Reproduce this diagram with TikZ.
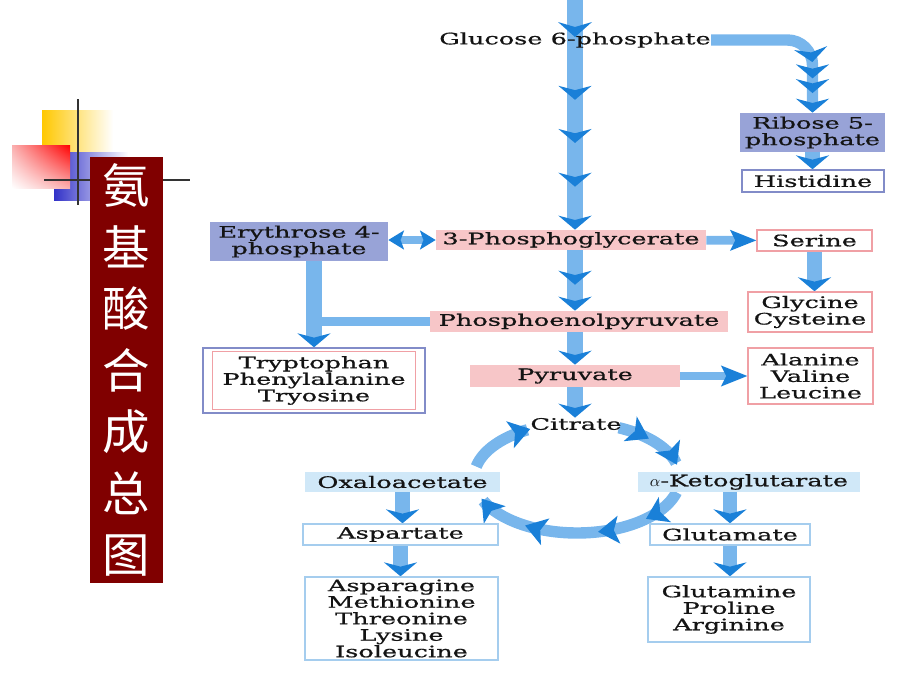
\documentclass[tikz,border=0pt]{standalone}
\usepackage{fontspec}
\setmainfont{DejaVu Serif}[FakeStretch=1.62, FakeBold=0.8]
\newfontfamily\cjk{Noto Sans CJK SC}
\usepackage{tikz}
\usetikzlibrary{arrows.meta}
\usetikzlibrary{decorations.markings}
\usetikzlibrary{backgrounds}
\usetikzlibrary{shadings}
\definecolor{ink}{RGB}{20,20,20}
\definecolor{pinkfill}{RGB}{247,198,200}
\definecolor{pinkline}{RGB}{240,160,165}
\definecolor{slatefill}{RGB}{152,163,215}
\definecolor{slateline}{RGB}{130,140,200}
\definecolor{skyfill}{RGB}{208,232,248}
\definecolor{skyline}{RGB}{165,205,238}
\definecolor{shaftblue}{RGB}{120,182,236}
\definecolor{headblue}{RGB}{26,128,216}
\definecolor{maroon}{RGB}{128,0,0}
\definecolor{sunny}{RGB}{255,200,0}
\definecolor{deepblue}{RGB}{50,50,200}
\definecolor{rosy}{RGB}{250,175,175}
\newcommand\labelsize{\fontsize{9pt}{9.4pt}\selectfont}
\tikzstyle{box}=[rectangle, inner sep=0pt, align=center, text=ink, font=\labelsize]
\tikzstyle{pinkbox}=[box, fill=pinkfill]
\tikzstyle{pinkframe}=[box, fill=white, draw=pinkline, line width=0.8pt]
\tikzstyle{slatebox}=[box, fill=slatefill]
\tikzstyle{slateframe}=[box, fill=white, draw=slateline, line width=0.8pt]
\tikzstyle{skybox}=[box, fill=skyfill]
\tikzstyle{skyframe}=[box, fill=white, draw=skyline, line width=0.8pt]
\tikzstyle{titlebar}=[rectangle, inner sep=0pt, fill=maroon, text=white, align=center, font=\cjk\fontsize{27pt}{35pt}\selectfont]
\tikzstyle{crossline}=[draw=black!80, line width=1.7pt]
\tikzstyle{mainshaft}=[draw=shaftblue, line width=9pt, -{vtip}]
\tikzstyle{vshaft}=[draw=shaftblue, line width=8.5pt, -{vtip}]
\tikzstyle{midshaft}=[draw=shaftblue, line width=6.5pt, -{vtip}]
\tikzstyle{hshaft}=[draw=shaftblue, line width=5pt, -{htip}]
\tikzstyle{cshaft}=[draw=shaftblue, line width=6.5pt, -{ctip}]
\tikzset{
  vtip/.tip={Stealth[length=8pt, width=19pt, inset=2.5pt, line width=0pt, color=headblue]},
  htip/.tip={Stealth[length=15pt, width=12pt, inset=3pt, line width=0pt, color=headblue]},
  ctip/.tip={Stealth[length=12pt, width=16pt, inset=3pt, line width=0pt, color=headblue]},
  dtip/.tip={Stealth[length=9pt, width=11pt, inset=2pt, line width=0pt, color=headblue]},
  vmark/.style={postaction={decorate, decoration={markings, mark=at position #1 with {\arrow{vtip}}}}},
  cmark/.style={postaction={decorate, decoration={markings, mark=at position #1 with {\arrow{ctip}}}}}
}

\begin{document}
\begin{tikzpicture}[x=0.02cm, y=0.02cm]
  \useasboundingbox (0,0) rectangle (920,-690);
  % corner ornament
  \shade[left color=sunny, middle color=sunny, right color=white] (42,-110) rectangle (113,-152);
  \shade[left color=deepblue, middle color=deepblue, right color=white] (54,-152) rectangle (128,-200);
  \shade[upper right=red, lower left=white, upper left=rosy, lower right=rosy] (12,-145) rectangle (70,-188);
  \draw[crossline] (78,-99) -- (78,-205);
  \draw[crossline] (44,-180) -- (190,-180);
  \node[titlebar, minimum width=1.46cm, minimum height=8.52cm] (title) at (126.5,-370) {氨\\基\\酸\\合\\成\\总\\图};

  \node[box] (g6p) at (575,-40) {Glucose 6-phosphate};
  \node[slatebox, minimum width=2.9cm, minimum height=0.78cm] (rib) at (812.5,-132.5) {Ribose 5-\\phosphate};
  \node[slateframe, minimum width=2.84cm, minimum height=0.44cm] (his) at (813,-181) {Histidine};
  \node[slatebox, minimum width=3.56cm, minimum height=0.78cm] (ery) at (299,-241.5) {Erythrose 4-\\phosphate};
  \node[pinkbox, minimum width=5.4cm, minimum height=0.4cm] (pg3) at (571,-240) {3-Phosphoglycerate};
  \node[pinkframe, minimum width=2.3cm, minimum height=0.42cm] (ser) at (814.5,-240.5) {Serine};
  \node[pinkframe, minimum width=2.48cm, minimum height=0.8cm] (gly) at (810,-312) {Glycine\\Cysteine};
  \node[pinkbox, minimum width=5.96cm, minimum height=0.42cm] (pep) at (579,-321.5) {Phosphoenolpyruvate};
  \node[slateframe, minimum width=4.44cm, minimum height=1.3cm] (trp) at (314,-380.5) {Tryptophan\\Phenylalanine\\Tryosine};
  \draw[pinkline, line width=0.8pt] ([shift={(10,4)}]trp.south west) rectangle ([shift={(-10,-4)}]trp.north east);
  \node[pinkbox, minimum width=4.2cm, minimum height=0.44cm] (pyr) at (575,-376) {Pyruvate};
  \node[pinkframe, minimum width=2.5cm, minimum height=1.12cm] (ala) at (810.5,-376) {Alanine\\Valine\\Leucine};
  \node[box] (cit) at (576,-424) {Citrate};
  \node[skybox, minimum width=3.9cm, minimum height=0.4cm] (oxa) at (402.5,-482) {Oxaloacetate};
  \node[skybox, minimum width=4.44cm, minimum height=0.4cm] (akg) at (749,-482) {$\alpha$-Ketoglutarate};
  \node[skyframe, minimum width=3.9cm, minimum height=0.42cm] (asp) at (400.5,-534.5) {Aspartate};
  \node[skyframe, minimum width=3.2cm, minimum height=0.42cm] (glu) at (730,-534.5) {Glutamate};
  \node[skyframe, minimum width=3.86cm, minimum height=1.66cm] (asn) at (401.5,-618.5) {Asparagine\\Methionine\\Threonine\\Lysine\\Isoleucine};
  \node[skyframe, minimum width=3.24cm, minimum height=1.3cm] (gln) at (729,-609.5) {Glutamine\\Proline\\Arginine};

  \begin{scope}[on background layer]
    \coordinate (top) at (575,0);
    \coordinate (g6phead) at (575,-37);
    \draw[mainshaft, -] (top) -- (g6phead);
    \fill[headblue] (g6phead) -- ++(-17,15) -- ++(17,-5) -- ++(17,5) -- cycle;
    \draw[mainshaft, vmark=0.326, vmark=0.55, vmark=0.777] (g6phead) -- (top |- pg3.north);
    \draw[mainshaft, vmark=0.57] (top |- pg3.south) -- (top |- pep.north);
    \draw[mainshaft] (top |- pep.south) -- (top |- pyr.north);
    \draw[mainshaft] (top |- pyr.south) -- (top |- cit.north);
    \draw[midshaft, rounded corners=0.5cm, vmark=0.69, vmark=0.79, vmark=0.88] (g6p.east) -| (rib.north);
    \draw[vshaft] (rib.south) -- (rib.south |- his.north);
    \draw[hshaft, {dtip}-{dtip}] (ery.east |- pg3) -- (pg3.west);
    \draw[hshaft] (pg3) -- (ser);
    \draw[vshaft] (ser.south) -- (ser.south |- gly.north);
    \draw[hshaft, -] (pep.west) -- (pep.west -| trp.north);
    \draw[vshaft, line width=9.5pt] (ery.south -| trp.north) -- (trp.north);
    \draw[hshaft] (pyr) -- (ala);
    % citric acid cycle
    \draw[cshaft] plot[domain=168:117, samples=30] ({577+103*cos(\x)}, {-478+55*sin(\x)});
    \draw[cshaft, cmark=0.45] plot[domain=66:14, samples=30] ({577+103*cos(\x)}, {-478+55*sin(\x)});
    \draw[cshaft, cmark=0.19, cmark=0.42, cmark=0.76] plot[domain=-15:-158, samples=60] ({577+103*cos(\x)}, {-478+55*sin(\x)});
    \draw[vshaft] (oxa.south) -- (oxa.south |- asp.north);
    \draw[vshaft] (asp.south) -- (asp.south |- asn.north);
    \draw[vshaft] (glu.north |- akg.south) -- (glu.north);
    \draw[vshaft] (glu.south) -- (glu.south |- gln.north);
  \end{scope}
\end{tikzpicture}
\end{document}
